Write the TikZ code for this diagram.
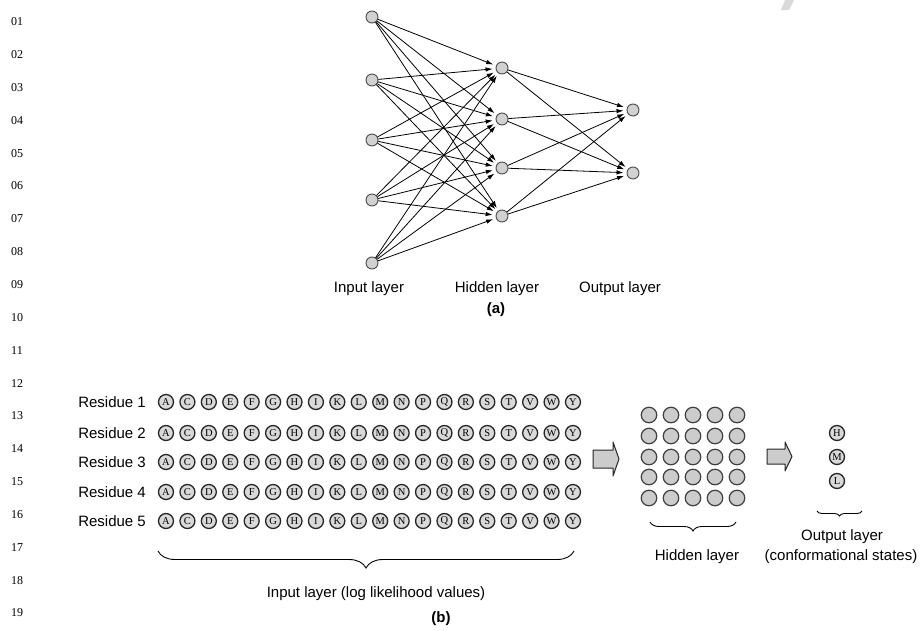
\documentclass[tikz,border=0pt]{standalone}
\usepackage{fontspec}
\setmainfont{Liberation Sans}
\newfontfamily\serifnum{Liberation Serif}
\usetikzlibrary{arrows.meta,decorations.pathreplacing}
\begin{document}
\begin{tikzpicture}[x=1pt,y=-1pt,
  neuron/.style={circle,draw=black!70,fill=black!18,line width=0.9pt,minimum size=12pt,inner sep=0pt},
  conn/.style={-{Latex[length=7pt,width=4.5pt]},line width=0.8pt,shorten >=3pt},
  lbl/.style={font=\fontsize{15}{18}\selectfont,inner sep=0pt},
  aa/.style={circle,draw=black!85,fill=black!15,line width=1.3pt,minimum size=15pt,inner sep=0pt,font=\serifnum\fontsize{10.5}{10.5}\selectfont},
  hid/.style={circle,draw=black!75,fill=black!20,line width=1.2pt,minimum size=15.5pt,inner sep=0pt},
  linenum/.style={font=\serifnum\fontsize{12}{12}\selectfont,inner sep=0pt},
  blockarrow/.style={draw=black!85,fill=black!20,line width=1pt,line join=round},
  brc/.style={decorate,decoration={brace,mirror,amplitude=#1},line width=0.9pt}]
\useasboundingbox (0,0) rectangle (922,630);
\fill[white] (0,0) rectangle (922,630);
% faint mark top right
\fill[black!15] (781,10) -- (785,0) -- (794,0) -- (789,10) -- cycle;
% line numbers
\foreach \i in {1,...,19}{
  \pgfmathsetmacro\yy{21.7+(\i-1)*32.85}
  \node[linenum] (ln\i) at (17,\yy) {\ifnum\i<10 0\fi\i};
}
% (a) network
\foreach \y [count=\i] in {17,80,140,200,263} \node[neuron] (in\i) at (372,\y) {};
\foreach \y [count=\i] in {68,119,168,216} \node[neuron] (hd\i) at (502,\y) {};
\foreach \y [count=\i] in {110,173} \node[neuron] (out\i) at (633,\y) {};
\foreach \i in {1,...,5} \foreach \j in {1,...,4} \draw[conn] (in\i) -- (hd\j);
\foreach \i in {1,...,4} \foreach \j in {1,2} \draw[conn] (hd\i) -- (out\j);
\node[lbl] (la1) at (369,289) {Input layer};
\node[lbl] (la2) at (497,289) {Hidden layer};
\node[lbl] (la3) at (620,289) {Output layer};
\node[lbl] (capa) at (496,310) {\textbf{(a)}};
% (b) input rows
\foreach \r/\y in {1/402,2/433,3/462,4/492,5/521}{
  \node[lbl,anchor=east] (res\r) at (146,\y) {Residue \r};
  \foreach \l [count=\k] in {A,C,D,E,F,G,H,I,K,L,M,N,P,Q,R,S,T,V,W,Y}{
    \pgfmathsetmacro\xx{166+(\k-1)*21.42}
    \node[aa] (c\r\l) at (\xx,\y) {\l};
  }
}
% block arrows
\draw[blockarrow] (593,450) -- (613,450) -- (613,442) -- (619,459) -- (613,476) -- (613,468) -- (593,468) -- cycle;
\draw[blockarrow] (767,449) -- (785,449) -- (785,442) -- (792,456.5) -- (785,471) -- (785,464) -- (767,464) -- cycle;
% hidden grid
\foreach \x [count=\i] in {649,671,693,715,737}
  \foreach \y [count=\j] in {415,436,457,477,498}
    \node[hid] (h\i\j) at (\x,\y) {};
% output states
\node[aa] (oH) at (837,433) {H};
\node[aa] (oM) at (837,457) {M};
\node[aa] (oL) at (837,481) {L};
% braces
\draw[brc=17pt] (158,551) -- (574,551);
\draw[brc=9pt] (650,522) -- (736,522);
\draw[brc=5pt] (817,511) -- (862,511);
% labels
\node[lbl] (lb1) at (376,594) {Input layer (log likelihood values)};
\node[lbl] (lb2) at (697,557) {Hidden layer};
\node[lbl] (lb3) at (842,537) {Output layer};
\node[lbl] (lb4) at (841,557) {(conformational states)};
\node[lbl] (capb) at (441,619) {\textbf{(b)}};
\end{tikzpicture}
\end{document}
